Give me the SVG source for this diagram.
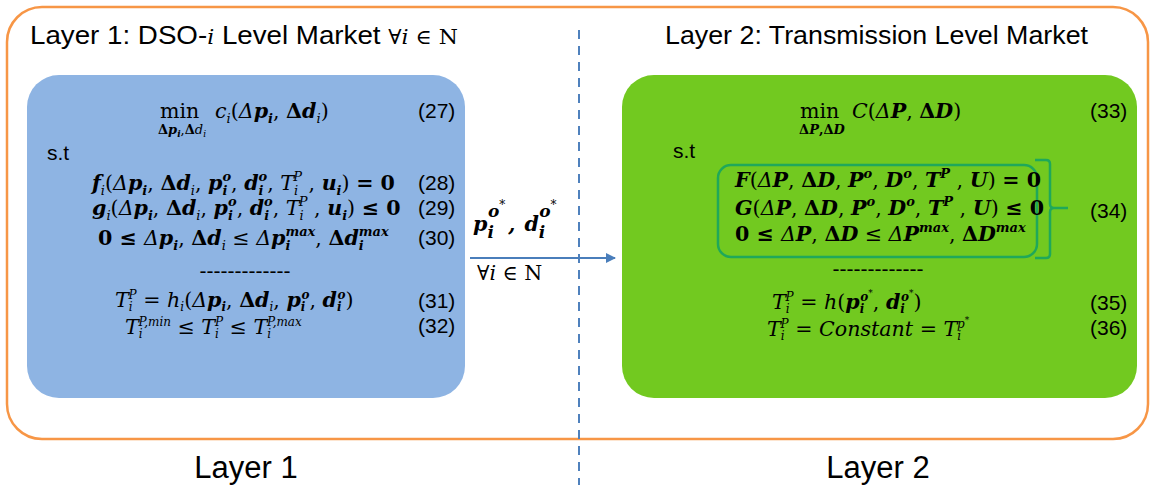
<svg xmlns="http://www.w3.org/2000/svg" width="1150" height="485" viewBox="0 0 1150 485">
<defs>
<style>
.m{font-family:"DejaVu Serif","Liberation Serif",serif;font-size:20.6px;fill:#000}
.b{font-weight:bold}
.i{font-style:italic}
.bi{font-weight:bold;font-style:italic}
.lo{font-size:13px;baseline-shift:-5px}
.hi{font-size:13px;baseline-shift:9px}
.lo2{font-size:12px;baseline-shift:-4px}
.hi2{font-size:12px;baseline-shift:8px}
.st{font-size:9px;baseline-shift:13px}
.sans{font-family:"Liberation Sans","DejaVu Sans",sans-serif;fill:#000}
.num{font-family:"Liberation Sans","DejaVu Sans",sans-serif;font-size:21px;fill:#000}
.sub{font-size:13px}
.ss{font-size:9px;baseline-shift:-3px}
.mlo{font-size:17px;baseline-shift:-7px}
.mhi{font-size:17px;baseline-shift:14px}
.mst{font-size:12px;baseline-shift:22px}
</style>
<marker id="ah" viewBox="0 0 10 10" refX="9" refY="5" markerWidth="5" markerHeight="5" orient="auto" markerUnits="strokeWidth">
<path d="M0,0 L10,5 L0,10 z" fill="#4A7EBB"/>
</marker>
</defs>
<rect width="1150" height="485" fill="#fff"/>

<g id="frame">
<rect x="7" y="7" width="1141" height="432" rx="35" ry="35" fill="none" stroke="#F79646" stroke-width="2.5"/>
<text class="sans" x="30" y="44" font-size="26" textLength="428" lengthAdjust="spacingAndGlyphs">Layer 1: DSO-<tspan class="m i" font-size="26">i</tspan> Level Market <tspan class="m" font-size="26">∀</tspan><tspan class="m i" font-size="26">i</tspan><tspan class="m" font-size="26"> ∈ N</tspan></text>
<text class="sans" x="665" y="44" font-size="26" textLength="423" lengthAdjust="spacingAndGlyphs">Layer 2: Transmission Level Market</text>
<text class="sans" x="246" y="478" font-size="31" text-anchor="middle">Layer 1</text>
<text class="sans" x="878" y="478" font-size="31" text-anchor="middle">Layer 2</text>
</g>

<g id="connectors">
<line x1="579" y1="30" x2="579" y2="485" stroke="#4F81BD" stroke-width="2" stroke-dasharray="9,7"/>
<line x1="470" y1="258" x2="615" y2="258" stroke="#4A7EBB" stroke-width="2" marker-end="url(#ah)"/>
<text class="m" x="473" y="231" font-size="30"><tspan class="bi">p</tspan><tspan class="bi mlo">i</tspan><tspan class="bi mhi" dx="-6">o</tspan><tspan class="mst">*</tspan><tspan class="bi" dx="3">,</tspan><tspan class="bi" dx="9">d</tspan><tspan class="bi mlo">i</tspan><tspan class="bi mhi" dx="-6">o</tspan><tspan class="mst">*</tspan></text>
<text class="m" x="477" y="280" font-size="24">∀<tspan class="i">i</tspan> ∈ N</text>
</g>

<g id="layer1">
<rect x="27" y="75" width="438" height="323" rx="32" ry="32" fill="#8EB4E3"/>
<text class="m" x="160" y="118">min</text>
<text class="m sub" x="182" y="134" text-anchor="middle"><tspan class="b">Δ</tspan><tspan class="bi">p</tspan><tspan class="bi ss">i</tspan>,<tspan class="b">Δ</tspan><tspan class="i">d</tspan><tspan class="i ss">i</tspan></text>
<text class="m" x="215" y="118"><tspan class="i">c</tspan><tspan class="i lo">i</tspan>(<tspan class="i">Δ</tspan><tspan class="bi">p</tspan><tspan class="bi lo">i</tspan>, <tspan class="b">Δ</tspan><tspan class="bi">d</tspan><tspan class="i lo">i</tspan>)</text>
<text class="num" x="418" y="118">(27)</text>
<text class="num" x="47" y="160">s.t</text>

<text class="m" x="92" y="190"><tspan class="bi">f</tspan><tspan class="i lo">i</tspan>(<tspan class="i">Δ</tspan><tspan class="bi">p</tspan><tspan class="bi lo">i</tspan>, <tspan class="b">Δ</tspan><tspan class="bi">d</tspan><tspan class="i lo">i</tspan>, <tspan class="bi">p</tspan><tspan class="bi lo">i</tspan><tspan class="bi hi" dx="-5">o</tspan>, <tspan class="bi">d</tspan><tspan class="bi lo">i</tspan><tspan class="bi hi" dx="-5">o</tspan>, <tspan class="i">T</tspan><tspan class="i lo">i</tspan><tspan class="i hi" dx="-5">P</tspan> , <tspan class="bi">u</tspan><tspan class="bi lo">i</tspan>) <tspan class="b">= 0</tspan></text>
<text class="num" x="418" y="190">(28)</text>

<text class="m" x="92" y="215"><tspan class="bi">g</tspan><tspan class="i lo">i</tspan>(<tspan class="i">Δ</tspan><tspan class="bi">p</tspan><tspan class="bi lo">i</tspan>, <tspan class="b">Δ</tspan><tspan class="bi">d</tspan><tspan class="i lo">i</tspan>, <tspan class="bi">p</tspan><tspan class="bi lo">i</tspan><tspan class="bi hi" dx="-5">o</tspan>, <tspan class="bi">d</tspan><tspan class="bi lo">i</tspan><tspan class="bi hi" dx="-5">o</tspan>, <tspan class="i">T</tspan><tspan class="i lo">i</tspan><tspan class="i hi" dx="-5">P</tspan> , <tspan class="bi">u</tspan><tspan class="bi lo">i</tspan>) <tspan class="b">≤ 0</tspan></text>
<text class="num" x="418" y="215">(29)</text>

<text class="m" x="98" y="245"><tspan class="b">0 ≤ </tspan><tspan class="i">Δ</tspan><tspan class="bi">p</tspan><tspan class="bi lo">i</tspan>, <tspan class="b">Δ</tspan><tspan class="bi">d</tspan><tspan class="i lo">i</tspan> ≤ <tspan class="i">Δ</tspan><tspan class="bi">p</tspan><tspan class="bi lo">i</tspan><tspan class="bi hi" dx="-5">max</tspan>, <tspan class="b">Δ</tspan><tspan class="bi">d</tspan><tspan class="bi lo">i</tspan><tspan class="bi hi" dx="-5">max</tspan></text>
<text class="num" x="418" y="245">(30)</text>

<text class="num" x="245" y="278" text-anchor="middle">-------------</text>

<text class="m" x="115" y="307"><tspan class="i">T</tspan><tspan class="i lo2">i</tspan><tspan class="i hi2" dx="-4">P</tspan> = <tspan class="i">h</tspan><tspan class="i lo2">i</tspan>(<tspan class="i">Δ</tspan><tspan class="bi">p</tspan><tspan class="bi lo2">i</tspan>, <tspan class="b">Δ</tspan><tspan class="bi">d</tspan><tspan class="i lo2">i</tspan>, <tspan class="bi">p</tspan><tspan class="bi lo2">i</tspan><tspan class="bi hi2" dx="-4">o</tspan>, <tspan class="bi">d</tspan><tspan class="bi lo2">i</tspan><tspan class="bi hi2" dx="-4">o</tspan>)</text>
<text class="num" x="418" y="308">(31)</text>

<text class="m" x="125" y="334"><tspan class="i">T</tspan><tspan class="i lo2">i</tspan><tspan class="i hi2" dx="-4">P,min</tspan> ≤ <tspan class="i">T</tspan><tspan class="i lo2">i</tspan><tspan class="i hi2" dx="-4">P</tspan> ≤ <tspan class="i">T</tspan><tspan class="i lo2">i</tspan><tspan class="i hi2" dx="-4">P,max</tspan></text>
<text class="num" x="418" y="333">(32)</text>
</g>

<g id="layer2">
<rect x="622" y="75" width="515" height="323" rx="32" ry="32" fill="#72C920"/>
<text class="m" x="800" y="118">min</text>
<text class="m sub b" x="822" y="134" text-anchor="middle">Δ<tspan class="i">P</tspan>,Δ<tspan class="i">D</tspan></text>
<text class="m" x="852" y="118"><tspan class="i">C</tspan>(<tspan class="i">Δ</tspan><tspan class="bi">P</tspan>, <tspan class="b">Δ</tspan><tspan class="bi">D</tspan>)</text>
<text class="num" x="1090" y="118">(33)</text>
<text class="num" x="673" y="158">s.t</text>

<rect x="718" y="165" width="319" height="92" rx="13" ry="13" fill="none" stroke="#1FA85A" stroke-width="2.5"/>
<path d="M1035,160 L1046,160 Q1050,160 1050,164 L1050,204 Q1050,208 1054,208 L1068,208 M1054,208 Q1050,208 1050,212 L1050,254 Q1050,258 1046,258 L1035,258" fill="none" stroke="#1FA85A" stroke-width="2.5"/>

<text class="m" x="735" y="187" font-size="19"><tspan class="bi">F</tspan>(<tspan class="i">Δ</tspan><tspan class="bi">P</tspan>, <tspan class="b">Δ</tspan><tspan class="bi">D</tspan>, <tspan class="bi">P</tspan><tspan class="bi hi">o</tspan>, <tspan class="bi">D</tspan><tspan class="bi hi">o</tspan>, <tspan class="bi">T</tspan><tspan class="bi hi">P</tspan> , <tspan class="bi">U</tspan>) <tspan class="b">= 0</tspan></text>
<text class="m" x="735" y="215" font-size="19"><tspan class="bi">G</tspan>(<tspan class="i">Δ</tspan><tspan class="bi">P</tspan>, <tspan class="b">Δ</tspan><tspan class="bi">D</tspan>, <tspan class="bi">P</tspan><tspan class="bi hi">o</tspan>, <tspan class="bi">D</tspan><tspan class="bi hi">o</tspan>, <tspan class="bi">T</tspan><tspan class="bi hi">P</tspan> , <tspan class="bi">U</tspan>) <tspan class="b">≤ 0</tspan></text>
<text class="m" x="735" y="241" font-size="20"><tspan class="b">0 ≤ </tspan><tspan class="i">Δ</tspan><tspan class="bi">P</tspan>, <tspan class="b">Δ</tspan><tspan class="bi">D</tspan> ≤ <tspan class="i">Δ</tspan><tspan class="bi">P</tspan><tspan class="bi hi">max</tspan>, <tspan class="b">Δ</tspan><tspan class="bi">D</tspan><tspan class="bi hi">max</tspan></text>
<text class="num" x="1090" y="218">(34)</text>

<text class="num" x="878" y="276" text-anchor="middle">-------------</text>

<text class="m" x="772" y="309"><tspan class="i">T</tspan><tspan class="i lo2">i</tspan><tspan class="i hi2" dx="-4">P</tspan> = <tspan class="i">h</tspan>(<tspan class="bi">p</tspan><tspan class="bi lo2">i</tspan><tspan class="bi hi2" dx="-4">o</tspan><tspan class="st">*</tspan>, <tspan class="bi">d</tspan><tspan class="bi lo2">i</tspan><tspan class="bi hi2" dx="-4">o</tspan><tspan class="st">*</tspan>)</text>
<text class="num" x="1090" y="310">(35)</text>

<text class="m" x="767" y="336"><tspan class="i">T</tspan><tspan class="i lo2">i</tspan><tspan class="i hi2" dx="-4">P</tspan> = <tspan class="i">Constant</tspan> = <tspan class="i">T</tspan><tspan class="i lo2">i</tspan><tspan class="i hi2" dx="-4">p</tspan><tspan class="st">*</tspan></text>
<text class="num" x="1090" y="335">(36)</text>
</g>
</svg>
